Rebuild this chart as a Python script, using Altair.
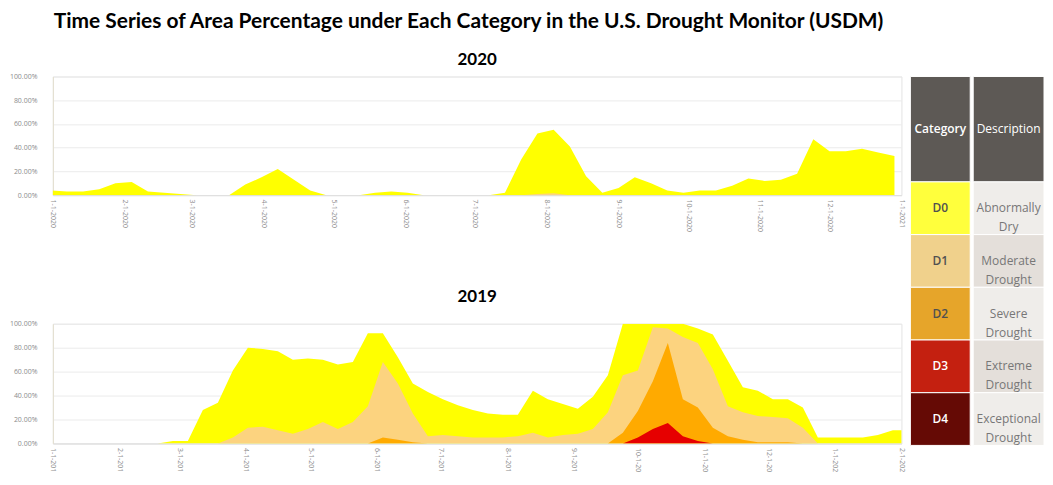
import altair as alt
import pandas as pd

# ---------------- data ----------------
categories = ["D0", "D1", "D2", "D3", "D4"]
descriptions = ["Abnormally\nDry", "Moderate\nDrought", "Severe\nDrought",
                "Extreme\nDrought", "Exceptional\nDrought"]
area_colors = ["#ffff00", "#fcd37f", "#ffaa00", "#e60000", "#730000"]
legend_colors = ["#ffff3c", "#f0d18c", "#e6a52a", "#c42010", "#650a05"]
desc_fills = ["#efedea", "#e4dfda", "#efedea", "#e4dfda", "#efedea"]
header_color = "#5d5955"

# weekly USDM maps (percent of area in category or worse)
start_2019 = "2019-01-01"
d0_2019 = [0, 0, 0, 0, 0, 0, 0, 0, 2, 2, 28, 34, 61, 80, 79, 77, 70, 71, 70, 66,
           68, 92, 92, 72, 50, 43, 37, 32, 28, 25, 24, 24, 44, 37, 33, 29, 39, 57,
           100, 100, 100, 100, 100, 96, 91, 69, 47, 44, 37, 37, 30, 5, 5, 5, 5, 7, 11, 11]
d1_2019 = [0, 0, 0, 0, 0, 0, 0, 0, 0, 0, 0, 0, 5, 13, 14, 11, 8, 12, 18, 12,
           18, 31, 68, 50, 25, 6, 7, 6, 5, 5, 5, 6, 9, 5, 7, 8, 12, 26,
           57, 61, 97, 96, 89, 84, 62, 31, 26, 23, 22, 21, 13, 0, 0, 0, 0, 0, 0, 0]
d2_2019 = [0, 0, 0, 0, 0, 0, 0, 0, 0, 0, 0, 0, 0, 0, 0, 0, 0, 0, 0, 0,
           0, 0, 5, 3, 1, 0, 0, 0, 0, 0, 0, 0, 0, 0, 0, 0, 0, 0,
           9, 27, 52, 84, 37, 30, 13, 6, 3, 1, 1, 1, 0, 0, 0, 0, 0, 0, 0, 0]
d3_2019 = [0, 0, 0, 0, 0, 0, 0, 0, 0, 0, 0, 0, 0, 0, 0, 0, 0, 0, 0, 0,
           0, 0, 0, 0, 0, 0, 0, 0, 0, 0, 0, 0, 0, 0, 0, 0, 0, 0,
           0, 5, 12, 17, 6, 2, 0, 0, 0, 0, 0, 0, 0, 0, 0, 0, 0, 0, 0, 0]
d4_2019 = [0] * 58

start_2020 = "2019-12-31"
d0_2020 = [4, 3, 3, 5, 10, 11, 3, 2, 1, 0, 0, 0, 9, 15, 22, 13, 4, 0, 0, 0,
           2, 3, 2, 0, 0, 0, 0, 0, 2, 30, 52, 55, 41, 16, 2, 6, 15, 10, 4, 2,
           4, 4, 8, 14, 12, 13, 18, 47, 37, 37, 39, 36, 33]
d1_2020 = [0, 0, 0, 0, 0, 0, 0, 0, 0, 0, 0, 0, 0, 0, 0, 0, 0, 0, 0, 0,
           0, 0, 0, 0, 0, 0, 0, 0, 0, 0, 1, 1.5, 0, 0, 0, 0, 0, 0, 0, 0,
           0, 0, 0, 0, 0, 0, 0, 0, 0, 0, 0, 0, 0]
d2_2020 = [0] * 53
d3_2020 = [0] * 53
d4_2020 = [0] * 53

main_title = "Time Series of Area Percentage under Each Category in the U.S. Drought Monitor (USDM)"


def long_frame(start, series):
    n = len(series[0])
    dates = pd.date_range(start, periods=n, freq="7D").strftime("%Y-%m-%d")
    rows = []
    for cat, vals in zip(categories, series):
        for d, v in zip(dates, vals):
            rows.append({"date": d, "cat": cat, "value": v / 100.0})
    return pd.DataFrame(rows)


df2019 = long_frame(start_2019, [d0_2019, d1_2019, d2_2019, d3_2019, d4_2019])
df2020 = long_frame(start_2020, [d0_2020, d1_2020, d2_2020, d3_2020, d4_2020])

label_color = "#8c8c8c"
PLOT_W = 851


def area_chart(df, title, dstart, dend, height, toffset, label_expr=None):
    xaxis_kw = dict(format="%-m-%-d-%Y", labelAngle=90,
                    labelFontSize=7, labelColor=label_color, labelFont="Open Sans",
                    grid=False, ticks=False, domainColor="#dedede",
                    labelPadding=4, title=None, labelOverlap=False,
                    labelFlush=False, labelBound=False,
                    tickCount={"interval": "month", "step": 1})
    if label_expr:
        xaxis_kw["labelExpr"] = label_expr
    base = alt.Chart(df).encode(
        x=alt.X("date:T",
                scale=alt.Scale(type="utc", domain=[dstart, dend]),
                axis=alt.Axis(**xaxis_kw)),
        y=alt.Y("value:Q",
                scale=alt.Scale(domain=[0, 1]),
                axis=alt.Axis(values=[0, 0.2, 0.4, 0.6, 0.8, 1.0], format=".2%",
                              labelFontSize=7, labelColor=label_color, labelFont="Open Sans",
                              ticks=False, labelPadding=16, domainColor="#e4dfcf",
                              gridColor="#ebebeb", title=None)),
    )
    layers = [
        base.transform_filter(alt.datum.cat == c).mark_area(color=col, interpolate="linear",
                                                            clip=True, opacity=1)
        for c, col in zip(categories, area_colors)
    ]
    return alt.layer(*layers).properties(
        width=PLOT_W, height=height,
        title=alt.Title(title, font="Lato", fontSize=17, fontWeight="bold",
                        color="#000000", anchor="middle", offset=toffset),
    )


c2020 = area_chart(df2020, "2020",
                   alt.DateTime(year=2020, month=1, date=1, utc=True),
                   alt.DateTime(year=2021, month=1, date=1, utc=True), 119, 4)
c2019 = area_chart(df2019, "2019",
                   alt.DateTime(year=2019, month=1, date=1, utc=True),
                   alt.DateTime(year=2020, month=2, date=1, utc=True), 120, 14,
                   label_expr="slice(datum.label, 0, 7)")

# ---------------- legend table ----------------
n = len(categories)
cat_df = pd.DataFrame({
    "label": ["Category"] + categories,
    "r0": [0] + [i + 2 for i in range(n)],
    "r1": [2] + [i + 3 for i in range(n)],
    "fill": [header_color] + legend_colors,
    "tc": ["#ffffff", "#505050", "#505050", "#505050", "#ffffff", "#ffffff"],
})
desc_df = pd.DataFrame({
    "label": ["Description"] + descriptions,
    "r0": [0] + [i + 2 for i in range(n)],
    "r1": [2] + [i + 3 for i in range(n)],
    "fill": [header_color] + desc_fills,
    "tc": ["#ffffff"] + ["#777777"] * n,
})

LEG_H = 370
yscale = alt.Scale(domain=[0, 7], reverse=True)


def table_col(df, w, size, weight):
    b = alt.Chart(df)
    rect = b.mark_rect(stroke="white", strokeWidth=1).encode(
        x=alt.value(0), x2=alt.value(w),
        y=alt.Y("r0:Q", scale=yscale, axis=None), y2="r1:Q",
        color=alt.Color("fill:N", scale=None),
    )
    txt = b.transform_calculate(mid="(datum.r0 + datum.r1) / 2").mark_text(
        font="Open Sans", fontSize=size, fontWeight=weight, lineBreak="\n",
        lineHeight=19, align="center", baseline="middle",
    ).encode(
        x=alt.value(w / 2),
        y=alt.Y("mid:Q", scale=yscale, axis=None),
        text="label:N",
        color=alt.Color("tc:N", scale=None),
    )
    return alt.layer(rect, txt).properties(
        width=w, height=LEG_H, view=alt.ViewBackground(stroke="transparent"))


legend = alt.hconcat(table_col(cat_df, 60, 12, 600), table_col(desc_df, 71, 12, 400), spacing=1)

chart = alt.hconcat(
    alt.vconcat(c2020, c2019, spacing=54),
    legend,
    spacing=3,
).properties(
    title=alt.Title(main_title, font="Lato", fontSize=21, fontWeight="bold", color="#000000",
                    anchor="start", dx=45, offset=18),
    padding={"left": 0, "top": 2, "right": 0, "bottom": 0},
).configure_view(stroke="#e3e3e3")

chart.save("out.html", embed_options={"renderer": "svg", "actions": False})
